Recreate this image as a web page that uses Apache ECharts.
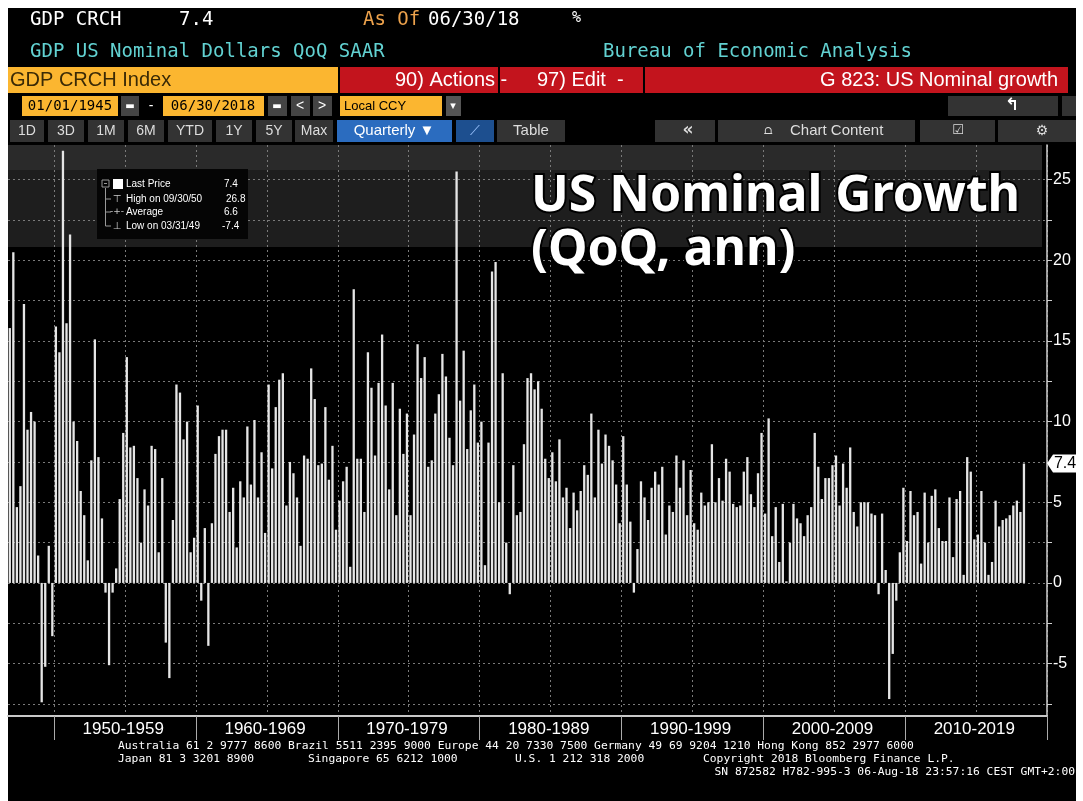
<!DOCTYPE html>
<html>
<head>
<meta charset="utf-8">
<title>US Nominal Growth</title>
<script src="https://cdn.jsdelivr.net/npm/echarts@6/dist/echarts.min.js"></script>
<style>
  html, body { margin: 0; padding: 0; background: #fff; }
  #chart { width: 1083px; height: 801px; }
</style>
</head>
<body>
<div id="chart"></div>
<script>
// GDP CRCH Index, US nominal GDP QoQ SAAR (%), one value per quarter, first one is 1946Q4
const g1940s = [15.8, 20.5, 4.7, 6.0, 17.3, 9.5, 10.6, 10.0, 1.7, -7.4, -5.2, 2.3, -3.3];
const g1950s = [15.9, 14.3, 26.8, 16.1, 21.6, 10.0, 8.8, 5.7, 4.2, 1.4, 7.6, 15.1, 7.8, 4.0, -0.6, -5.1,
  -0.6, 0.9, 5.2, 9.3, 14.0, 8.4, 8.5, 6.5, 2.5, 5.8, 4.8, 8.5, 8.3, 1.9, 6.5, -3.7,
  -5.9, 3.9, 12.3, 11.8, 8.9, 10.0, 1.9, 2.8];
const g1960s = [11.0, -1.1, 3.4, -3.9, 3.7, 8.0, 9.1, 9.5, 9.5, 4.4, 5.9, 2.2, 6.3, 5.3, 9.7, 6.1,
  10.1, 5.3, 8.1, 3.1, 12.3, 7.1, 10.9, 12.6, 13.0, 4.8, 7.5, 6.8, 5.3, 2.3, 7.9, 7.7,
  13.3, 11.4, 7.3, 7.4, 10.9, 6.4, 8.5, 3.3];
const g1970s = [5.1, 6.3, 7.2, 1.0, 18.2, 7.7, 7.7, 4.4, 14.3, 12.1, 7.9, 12.4, 15.4, 11.0, 5.8, 12.4,
  4.2, 10.8, 8.0, 10.5, 4.2, 9.2, 14.8, 12.7, 14.0, 7.2, 7.6, 10.5, 11.7, 14.2, 12.8, 9.0,
  7.3, 25.5, 11.3, 14.4, 8.3, 10.7, 12.3, 8.7];
const g1980s = [10.0, 1.1, 8.7, 19.3, 19.9, 5.0, 13.0, 2.5, -0.7, 7.3, 4.2, 4.4, 8.6, 12.7, 13.0, 12.0,
  12.5, 10.8, 7.7, 6.5, 8.1, 6.3, 8.9, 5.3, 5.9, 3.4, 5.6, 4.5, 5.7, 7.3, 6.7, 10.5,
  5.3, 9.5, 7.4, 9.2, 8.5, 7.6, 6.1, 3.7];
const g1990s = [9.1, 6.1, 3.8, -0.6, 2.1, 6.3, 5.3, 3.9, 5.9, 6.9, 6.1, 7.2, 3.0, 4.8, 4.4, 7.9,
  5.9, 7.6, 4.2, 7.0, 3.7, 3.3, 5.6, 4.8, 5.0, 8.6, 5.0, 6.5, 5.1, 7.7, 6.9, 4.9,
  4.7, 4.8, 6.9, 7.8, 5.5, 4.7, 6.8, 9.3];
const g2000s = [4.3, 10.2, 2.9, 4.7, 1.3, 4.9, 0.1, 2.5, 4.9, 4.0, 3.7, 2.9, 4.2, 4.7, 9.3, 7.2,
  5.2, 6.5, 6.5, 7.3, 7.9, 4.8, 7.4, 5.9, 8.4, 4.4, 3.5, 5.0, 5.0, 5.0, 4.3, 4.2,
  -0.7, 4.3, 0.8, -7.2, -4.4, -1.1, 1.9, 5.9];
const g2010s = [2.6, 5.7, 4.2, 4.4, 1.2, 5.6, 2.5, 5.4, 5.8, 3.4, 2.6, 2.6, 5.3, 1.6, 5.2, 5.7,
  0.5, 7.8, 6.9, 2.7, 3.0, 5.7, 2.5, 0.5, 1.3, 5.1, 3.5, 3.9, 4.0, 4.2, 4.8, 5.1,
  4.4, 7.4];

const decadeLabels = ['1950-1959', '1960-1969', '1970-1979', '1980-1989', '1990-1999', '2000-2009', '2010-2019'];
const yTickValues = [-7.5, -5, -2.5, 0, 2.5, 5, 7.5, 10, 12.5, 15, 17.5, 20, 22.5, 25];
const yLabelValues = [-5, 0, 5, 10, 15, 20, 25];
const lastPrice = 7.4;
const highValue = 26.8, avgValue = 6.6, lowValue = -7.4;

// quarters 1946Q4 .. 2019Q4 (axis runs a bit past the last print)
const quarters = ['1946Q4'];
for (let y = 1947; y <= 2019; y++) {
  for (let q = 1; q <= 4; q++) quarters.push(y + 'Q' + q);
}
const values = [].concat(g1940s, g1950s, g1960s, g1970s, g1980s, g1990s, g2000s, g2010s);
const barData = quarters.map((q, i) => (i < values.length ? values[i] : null));

const yearOf = v => parseInt(v.slice(0, 4));

function txt(x, y, text, fill, font, align, extra) {
  return Object.assign({
    type: 'text', x: x, y: y, z: 20,
    style: {text: text, fill: fill, font: font, align: align || 'left', verticalAlign: 'middle'}
  }, extra || {});
}
function box(x, y, w, h, fill, z) {
  return {type: 'rect', z: z === undefined ? 15 : z, shape: {x: x, y: y, width: w, height: h}, style: {fill: fill}};
}
function bigText(x, y, text) {
  return {type: 'text', x: x, y: y, z: 25,
    style: {text: text, fill: '#fff', font: 'bold 50px "Noto Sans"', verticalAlign: 'middle',
      stroke: '#000', lineWidth: 4, strokeFirst: true}};
}

const mono = '19px "DejaVu Sans Mono"';
const small = '14px "Liberation Sans"';
const foot = '11.3px "DejaVu Sans Mono"';
const yellow = '#fbb630', red = '#c3141d', btn = '#333333', blue = '#2b6cbf';

const graphics = [
  // frame
  box(8, 8, 1068, 793, '#000', -10),
  // shaded band at top of plot
  box(8, 145, 1034, 25, '#2a2a2a', -5),
  box(8, 170, 1034, 77, '#1e1e1e', -5),

  // header row 1 and 2
  txt(30, 20, 'GDP CRCH', '#fff', mono),
  txt(179, 20, '7.4', '#fff', mono),
  txt(363, 20, 'As Of', '#eda24c', mono),
  txt(428, 20, '06/30/18', '#fff', mono),
  txt(572, 18, '%', '#fff', '15px "DejaVu Sans Mono"'),
  txt(30, 52, 'GDP US Nominal Dollars QoQ SAAR', '#62d2d2', mono),
  txt(603, 52, 'Bureau of Economic Analysis', '#62d2d2', mono),

  // row 3
  box(8, 67, 330, 26, yellow),
  txt(10, 80, 'GDP CRCH Index', '#3a2a06', '20px "Liberation Sans"'),
  box(340, 67, 158, 26, red),
  txt(395, 80, '90) Actions -', '#fff', '20px "Liberation Sans"'),
  box(500, 67, 143, 26, red),
  txt(537, 80, '97) Edit  -', '#fff', '20px "Liberation Sans"'),
  box(645, 67, 423, 26, red),
  txt(1058, 80, 'G 823: US Nominal growth', '#fff', '20px "Liberation Sans"', 'right'),

  // row 4
  box(22, 96, 96, 20, yellow),
  txt(70, 106, '01/01/1945', '#000', '14px "DejaVu Sans Mono"', 'center'),
  box(121, 96, 18, 20, '#444'),
  txt(130, 106, '▬', '#fff', '10px "DejaVu Sans"', 'center'),
  txt(151, 106, '-', '#fff', small, 'center'),
  box(163, 96, 101, 20, yellow),
  txt(213, 106, '06/30/2018', '#000', '14px "DejaVu Sans Mono"', 'center'),
  box(268, 96, 19, 20, '#444'),
  txt(277, 106, '▬', '#fff', '10px "DejaVu Sans"', 'center'),
  box(291, 96, 19, 20, '#444'),
  txt(300, 106, '<', '#fff', small, 'center'),
  box(313, 96, 19, 20, '#444'),
  txt(322, 106, '>', '#fff', small, 'center'),
  box(340, 96, 102, 20, yellow),
  txt(344, 106, 'Local CCY', '#000', '13px "Liberation Sans"'),
  box(446, 96, 15, 20, '#555'),
  txt(453, 106, '▾', '#fff', '11px "DejaVu Sans"', 'center'),
  box(948, 96, 110, 20, btn),
  txt(1012, 106, '↰', '#fff', 'bold 17px "DejaVu Sans"', 'center'),
  box(1062, 96, 14, 20, btn),

  // row 5 buttons
  box(10, 120, 34, 22, btn), txt(27, 131, '1D', '#ddd', small, 'center'),
  box(48, 120, 36, 22, btn), txt(66, 131, '3D', '#ddd', small, 'center'),
  box(88, 120, 36, 22, btn), txt(106, 131, '1M', '#ddd', small, 'center'),
  box(128, 120, 36, 22, btn), txt(146, 131, '6M', '#ddd', small, 'center'),
  box(168, 120, 44, 22, btn), txt(190, 131, 'YTD', '#ddd', small, 'center'),
  box(216, 120, 36, 22, btn), txt(234, 131, '1Y', '#ddd', small, 'center'),
  box(256, 120, 36, 22, btn), txt(274, 131, '5Y', '#ddd', small, 'center'),
  box(295, 120, 38, 22, btn), txt(314, 131, 'Max', '#ddd', small, 'center'),
  box(337, 120, 115, 22, blue), txt(394, 131, 'Quarterly ▼', '#fff', '15px "Liberation Sans"', 'center'),
  box(456, 120, 38, 22, '#1d4f8f'), txt(475, 131, '⟋', '#9cc4ff', '14px "DejaVu Sans"', 'center'),
  box(497, 120, 68, 22, btn), txt(531, 131, 'Table', '#ddd', '15px "Liberation Sans"', 'center'),
  box(655, 120, 60, 22, btn), txt(688, 131, '«', '#ddd', 'bold 17px "DejaVu Sans"', 'center'),
  box(718, 120, 197, 22, btn),
  txt(768, 131, '⩍', '#ddd', '13px "DejaVu Sans"', 'center'),
  txt(790, 131, 'Chart Content', '#ddd', '15px "Liberation Sans"'),
  box(920, 120, 75, 22, btn), txt(958, 131, '☑', '#ddd', '13px "DejaVu Sans"', 'center'),
  box(998, 120, 78, 22, btn), txt(1042, 131, '⚙', '#ddd', '14px "DejaVu Sans"', 'center'),

  // legend box
  box(97, 169, 151, 70, '#050505', 18),
  {type: 'rect', z: 19, shape: {x: 102, y: 180, width: 7, height: 7}, style: {fill: 'none', stroke: '#999', lineWidth: 1}},
  {type: 'line', z: 19, shape: {x1: 104, y1: 183.5, x2: 107, y2: 183.5}, style: {stroke: '#999'}},
  {type: 'polyline', z: 19, shape: {points: [[105.5, 188], [105.5, 226], [111, 226]]}, style: {stroke: '#999', fill: 'none'}},
  {type: 'line', z: 19, shape: {x1: 105.5, y1: 199, x2: 111, y2: 199}, style: {stroke: '#999'}},
  {type: 'line', z: 19, shape: {x1: 105.5, y1: 212, x2: 111, y2: 212}, style: {stroke: '#999'}},
  box(113, 179, 10, 10, '#fff', 19),
  txt(126, 184, 'Last Price', '#fff', '10px "Liberation Sans"'),
  txt(224, 184, String(lastPrice), '#fff', '10px "Liberation Sans"'),
  txt(117, 199, '⊤', '#ccc', '10px "DejaVu Sans"', 'center'),
  txt(126, 199, 'High on 09/30/50', '#fff', '10px "Liberation Sans"'),
  txt(226, 199, highValue.toFixed(1), '#fff', '10px "Liberation Sans"'),
  txt(117, 212, '-+-', '#ccc', '9px "DejaVu Sans"', 'center'),
  txt(126, 212, 'Average', '#fff', '10px "Liberation Sans"'),
  txt(224, 212, avgValue.toFixed(1), '#fff', '10px "Liberation Sans"'),
  txt(117, 226, '⊥', '#ccc', '10px "DejaVu Sans"', 'center'),
  txt(126, 226, 'Low on 03/31/49', '#fff', '10px "Liberation Sans"'),
  txt(222, 226, lowValue.toFixed(1), '#fff', '10px "Liberation Sans"'),

  // big annotation
  bigText(531, 197, 'US Nominal Growth'),
  bigText(531, 251, '(QoQ, ann)'),

  // footer
  txt(118, 746, 'Australia 61 2 9777 8600 Brazil 5511 2395 9000 Europe 44 20 7330 7500 Germany 49 69 9204 1210 Hong Kong 852 2977 6000', '#fff', foot),
  txt(118, 759, 'Japan 81 3 3201 8900', '#fff', foot),
  txt(308, 759, 'Singapore 65 6212 1000', '#fff', foot),
  txt(515, 759, 'U.S. 1 212 318 2000', '#fff', foot),
  txt(703, 759, 'Copyright 2018 Bloomberg Finance L.P.', '#fff', foot),
  txt(1075, 772, 'SN 872582 H782-995-3 06-Aug-18 23:57:16 CEST GMT+2:00', '#fff', foot, 'right')
];

const chart = echarts.init(document.getElementById('chart'));

const option = {
  backgroundColor: '#fff',
  animation: false,
  grid: {left: 8, right: 36, top: 145, bottom: 85},
  xAxis: {
    type: 'category',
    data: quarters,
    axisLine: {show: true, onZero: false, lineStyle: {color: '#c8c8c8', width: 2}},
    axisTick: {
      show: true, length: 24,
      interval: (i, v) => v.endsWith('Q1') && yearOf(v) % 10 === 0,
      lineStyle: {color: '#aaa'}
    },
    axisLabel: {
      interval: (i, v) => v.endsWith('Q4') && yearOf(v) % 10 === 4,
      formatter: v => decadeLabels[(yearOf(v) - 1954) / 10],
      color: '#fff', fontSize: 17, fontFamily: 'Liberation Sans', margin: 5
    },
    splitLine: {
      show: true,
      interval: (i, v) => v.endsWith('Q1') && yearOf(v) % 5 === 0,
      lineStyle: {color: '#7a7a7a', type: [2, 3]}
    }
  },
  yAxis: {
    type: 'value',
    position: 'right',
    min: -8.25,
    max: 27.15,
    axisLine: {show: true, lineStyle: {color: '#d0d0d0', width: 1.5}},
    axisTick: {show: true, length: 5, customValues: yTickValues, lineStyle: {color: '#d0d0d0'}},
    axisLabel: {customValues: yLabelValues, color: '#fff', fontSize: 16, fontFamily: 'Liberation Sans', margin: 6},
    splitLine: {show: true, lineStyle: {color: '#7a7a7a', type: [2, 3]}}
  },
  series: [{
    name: 'GDP CRCH',
    type: 'bar',
    data: barData,
    barCategoryGap: '35%',
    itemStyle: {color: '#e6e6e6'}
  }],
  graphic: graphics
};
chart.setOption(option);

// last price tag on the right axis
const tagY = chart.convertToPixel({yAxisIndex: 0}, lastPrice);
chart.setOption({
  graphic: [
    {id: 'tag', type: 'polygon', z: 30,
      shape: {points: [[1047, tagY], [1053, tagY - 9], [1077, tagY - 9], [1077, tagY + 9], [1053, tagY + 9]]},
      style: {fill: '#fff'}},
    {id: 'tagText', type: 'text', z: 31, x: 1065, y: tagY,
      style: {text: String(lastPrice), fill: '#000', font: '16px "Liberation Sans"', align: 'center', verticalAlign: 'middle'}}
  ]
});
</script>
</body>
</html>
